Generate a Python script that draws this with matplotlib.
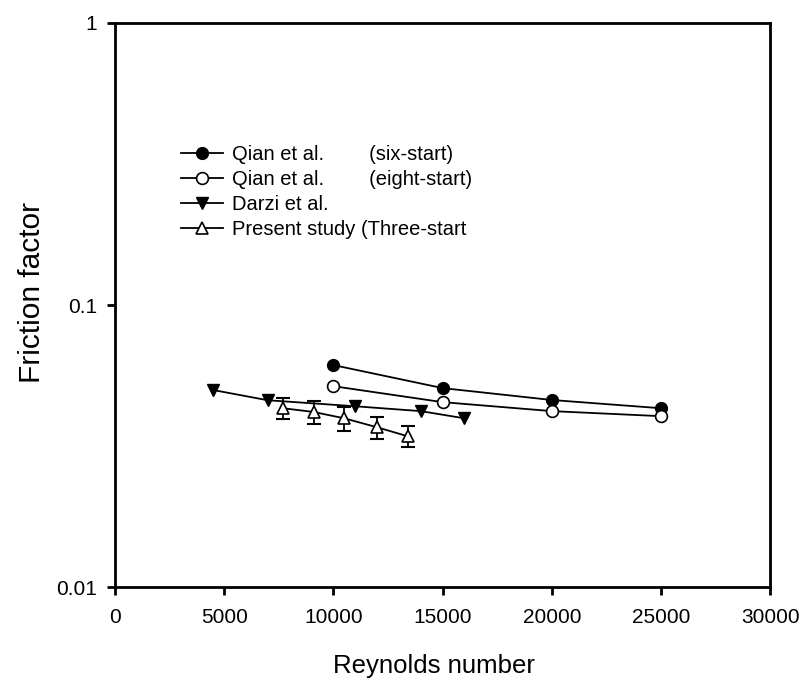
import matplotlib
matplotlib.use('Agg')
import matplotlib.pyplot as plt
from matplotlib.ticker import FixedLocator, NullLocator

plt.rcParams['font.family'] = ['Liberation Sans', 'DejaVu Sans']

# Qian et al. (six-start and eight-start)
qian_re = [10000, 15000, 20000, 25000]
qian_six_f = [0.0613, 0.0508, 0.0461, 0.0431]
qian_eight_f = [0.0516, 0.0453, 0.0421, 0.0404]

# Darzi et al.
darzi_re = [4500, 7000, 11000, 14000, 16000]
darzi_f = [0.0500, 0.0460, 0.0438, 0.0421, 0.0397]

# present study, three-start, with error bars
present_re = [7700, 9100, 10500, 12000, 13400]
present_f = [0.0431, 0.0418, 0.0397, 0.0369, 0.0343]
present_err = [0.0037, 0.0038, 0.0038, 0.0033, 0.0030]

labels = ['Qian et al.        (six-start)',
          'Qian et al.        (eight-start)',
          'Darzi et al.',
          'Present study (Three-start']

fig = plt.figure(figsize=(8.04, 6.95), dpi=100, facecolor='white')
ax = fig.add_axes([0.143, 0.155, 0.815, 0.812])

lw = 1.3
ms = 8.5
ax.plot(qian_re, qian_six_f, color='black', lw=lw, marker='o', ms=ms,
        mfc='black', mec='black', label=labels[0], zorder=3)
ax.plot(qian_re, qian_eight_f, color='black', lw=lw, marker='o', ms=ms,
        mfc='white', mec='black', mew=1.2, label=labels[1], zorder=3)
ax.plot(darzi_re, darzi_f, color='black', lw=lw, marker='v', ms=ms,
        mfc='black', mec='black', label=labels[2], zorder=3)
ax.errorbar(present_re, present_f, yerr=present_err, fmt='none',
            ecolor='black', elinewidth=1.3, capsize=5, capthick=1.5, zorder=2)
ax.plot(present_re, present_f, color='black', lw=lw, marker='^', ms=ms,
        mfc='white', mec='black', mew=1.2, label=labels[3], zorder=3)

ax.set_yscale('log')
ax.set_xlim(0, 30000)
ax.set_ylim(0.01, 1)
ax.set_xticks([0, 5000, 10000, 15000, 20000, 25000, 30000])
ax.yaxis.set_major_locator(FixedLocator([0.01, 0.1, 1]))
ax.yaxis.set_minor_locator(NullLocator())
ax.set_yticklabels(['0.01', '0.1', '1'])

ax.tick_params(direction='out', length=6, width=2, labelsize=15)
ax.tick_params(axis='y', pad=7)
ax.tick_params(axis='x', pad=9)
for s in ax.spines.values():
    s.set_linewidth(2)

ax.set_xlabel('Reynolds number', fontsize=18.5)
ax.set_ylabel('Friction factor', fontsize=21.5)
ax.xaxis.set_label_coords(0.487, -0.118)
ax.yaxis.set_label_coords(-0.105, 0.522)

ax.legend(loc='upper left', bbox_to_anchor=(181 / 804, 1 - 145 / 695),
          bbox_transform=fig.transFigure, frameon=False,
          fontsize=14.5, handlelength=2.1, handletextpad=0.45,
          labelspacing=0.3, borderpad=0, borderaxespad=0)

fig.savefig('out.png', dpi=100, facecolor='white')
